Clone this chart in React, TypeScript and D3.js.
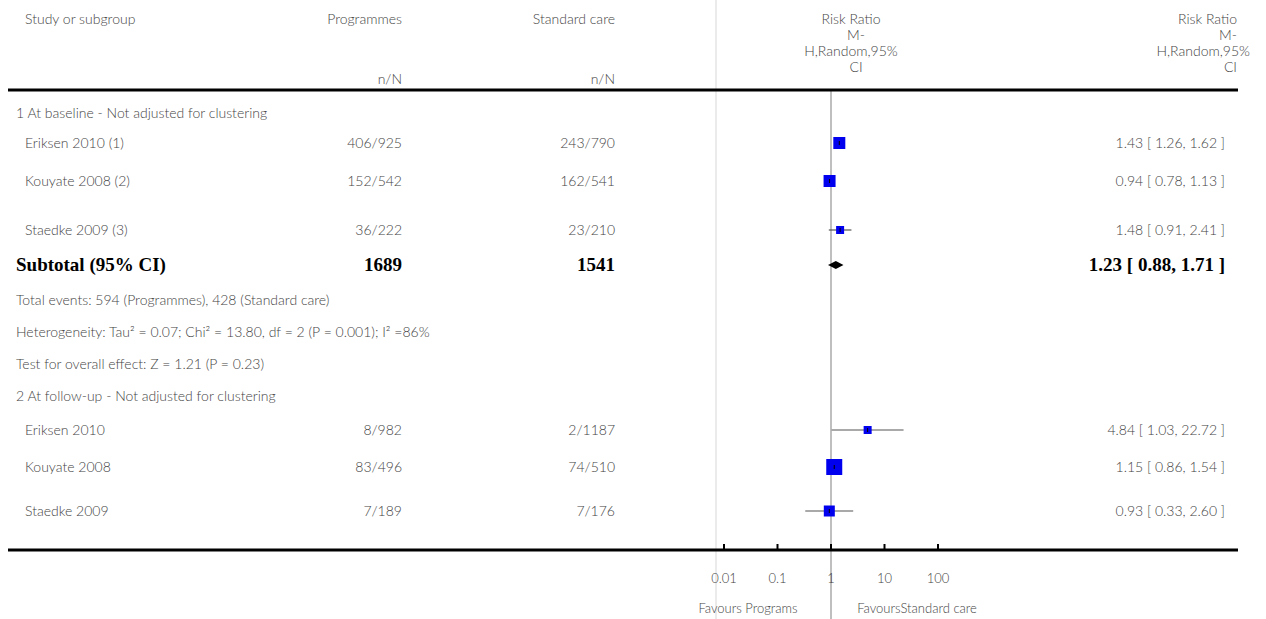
import React from "react";
import * as d3 from "d3";

const studies1 = ["Eriksen 2010 (1)", "Kouyate 2008 (2)", "Staedke 2009 (3)"];
const prog1 = ["406/925", "152/542", "36/222"];
const std1 = ["243/790", "162/541", "23/210"];
const rr1 = [1.43, 0.94, 1.48];
const lo1 = [1.26, 0.78, 0.91];
const hi1 = [1.62, 1.13, 2.41];
const w1 = [12, 12, 8];
const ci1 = ["1.43 [ 1.26, 1.62 ]", "0.94 [ 0.78, 1.13 ]", "1.48 [ 0.91, 2.41 ]"];

const studies2 = ["Eriksen 2010", "Kouyate 2008", "Staedke 2009"];
const prog2 = ["8/982", "83/496", "7/189"];
const std2 = ["2/1187", "74/510", "7/176"];
const rr2 = [4.84, 1.15, 0.93];
const lo2 = [1.03, 0.86, 0.33];
const hi2 = [22.72, 1.54, 2.6];
const w2 = [8, 16, 11];
const ci2 = ["4.84 [ 1.03, 22.72 ]", "1.15 [ 0.86, 1.54 ]", "0.93 [ 0.33, 2.60 ]"];

const subtotal = { rr: 1.23, lo: 0.88, hi: 1.71, n1: "1689", n2: "1541", label: "1.23 [ 0.88, 1.71 ]" };
const ticks = [0.01, 0.1, 1, 10, 100];

const font = "'Lato', 'Open Sans', sans-serif";
const col = "#444";

export default function App() {
  const x = d3.scaleLog().domain([0.01, 100]).range([724, 938]);
  const rows1 = [143, 181, 230];
  const rows2 = [430, 467, 511];
  const T = (props: any) => (
    <text fontFamily={font} fontSize={14} fontWeight={300} fill={col} {...props} />
  );
  const studyRows = (names: string[], p: string[], s: string[], rr: number[], lo: number[], hi: number[], w: number[], ci: string[], ys: number[]) =>
    names.map((n, i) => {
      const y = ys[i];
      return (
        <g key={n}>
          <T x={25} y={y + 5}>{n}</T>
          <T x={402} y={y + 5} textAnchor="end">{p[i]}</T>
          <T x={615} y={y + 5} textAnchor="end">{s[i]}</T>
          <line x1={x(lo[i])} x2={x(hi[i])} y1={y} y2={y} stroke="#555" strokeWidth={1.2} />
          <rect x={x(rr[i]) - w[i] / 2} y={y - w[i] / 2} width={w[i]} height={w[i]} fill="#0000ee" />
          <line x1={x(rr[i])} x2={x(rr[i])} y1={y - 2} y2={y + 2} stroke="#000" />
          <T x={1225} y={y + 5} textAnchor="end">{ci[i]}</T>
        </g>
      );
    });
  const sy = 265;
  return (
    <svg width={1266} height={619} style={{ position: "absolute", left: 0, top: 0 }}>
      <rect width={1266} height={619} fill="#fff" />
      <line x1={716} x2={716} y1={0} y2={619} stroke="#e4e4e4" strokeWidth={1.5} />
      <line x1={x(1)} x2={x(1)} y1={90} y2={619} stroke="#aaa" strokeWidth={1.5} />
      <T x={25} y={24}>Study or subgroup</T>
      <T x={402} y={24} textAnchor="end">Programmes</T>
      <T x={615} y={24} textAnchor="end">Standard care</T>
      <T x={402} y={84} textAnchor="end">n/N</T>
      <T x={615} y={84} textAnchor="end">n/N</T>
      {["Risk Ratio", "M-", "H,Random,95%", "CI"].map((t, i) => (
        <g key={t}>
          <T x={[851, 856, 851, 856][i]} y={24 + i * 16} textAnchor="middle">{t}</T>
          <T x={[1237, 1237, 1250, 1237][i]} y={24 + i * 16} textAnchor="end">{t}</T>
        </g>
      ))}
      <line x1={8} x2={1238} y1={90} y2={90} stroke="#000" strokeWidth={3} />
      <T x={16} y={118}>1 At baseline - Not adjusted for clustering</T>
      {studyRows(studies1, prog1, std1, rr1, lo1, hi1, w1, ci1, rows1)}
      <g fontFamily="'Liberation Serif', serif" fontWeight="bold" fontSize={19} fill="#000">
        <text x={16} y={sy + 6}>Subtotal (95% CI)</text>
        <text x={402} y={sy + 6} textAnchor="end">{subtotal.n1}</text>
        <text x={615} y={sy + 6} textAnchor="end">{subtotal.n2}</text>
        <text x={1225} y={sy + 6} textAnchor="end">{subtotal.label}</text>
      </g>
      <path d={`M${x(subtotal.lo)},${sy} L${x(subtotal.rr)},${sy - 4} L${x(subtotal.hi)},${sy} L${x(subtotal.rr)},${sy + 4} Z`} fill="#000" />
      <T x={16} y={305}>Total events: 594 (Programmes), 428 (Standard care)</T>
      <T x={16} y={337}>Heterogeneity: Tau² = 0.07; Chi² = 13.80, df = 2 (P = 0.001); I² =86%</T>
      <T x={16} y={369}>Test for overall effect: Z = 1.21 (P = 0.23)</T>
      <T x={16} y={401}>2 At follow-up - Not adjusted for clustering</T>
      {studyRows(studies2, prog2, std2, rr2, lo2, hi2, w2, ci2, rows2)}
      <line x1={8} x2={1238} y1={550} y2={550} stroke="#000" strokeWidth={3} />
      {ticks.map((t) => (
        <g key={t}>
          <line x1={x(t)} x2={x(t)} y1={544} y2={550} stroke="#000" strokeWidth={2} />
          <T x={x(t)} y={583} textAnchor="middle" fontSize={13}>{String(t)}</T>
        </g>
      ))}
      <T x={748} y={613} textAnchor="middle" fontSize={13}>Favours Programs</T>
      <T x={917} y={613} textAnchor="middle" fontSize={13}>FavoursStandard care</T>
    </svg>
  );
}
